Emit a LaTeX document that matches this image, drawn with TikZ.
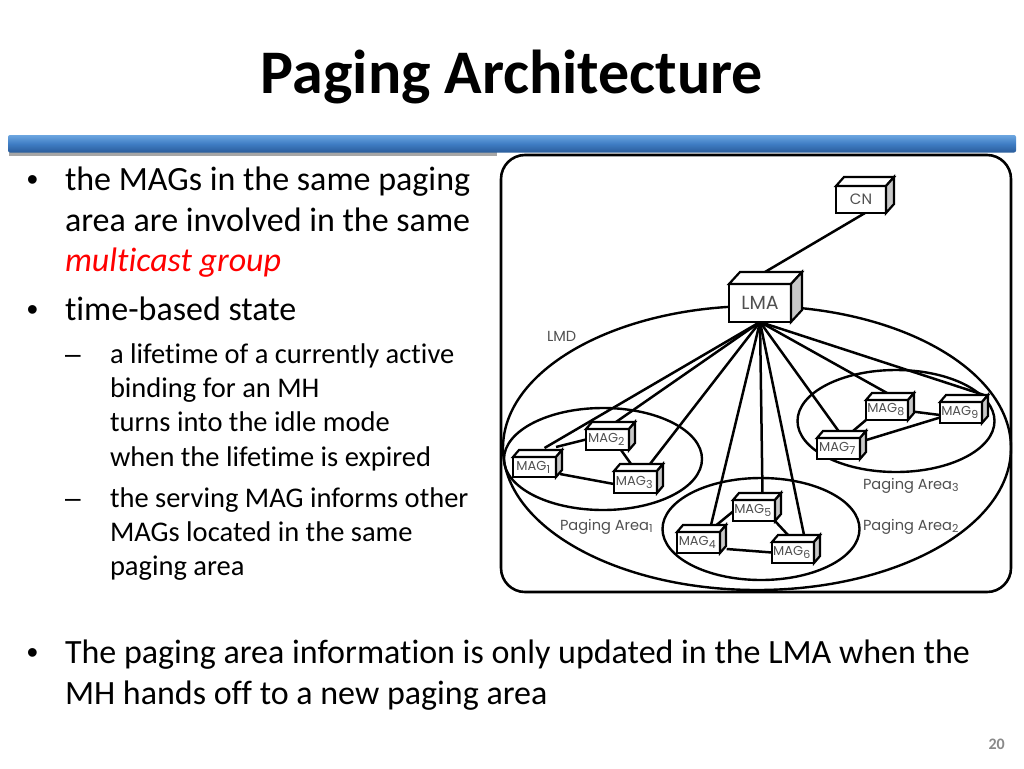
\documentclass[tikz,border=0pt]{standalone}
\usepackage{fontspec}
\setmainfont{Carlito}[Ligatures=NoCommon]
\newfontfamily\diafont{Poppins}
\newfontfamily\markfont{Liberation Sans}
\usetikzlibrary{calc,backgrounds,shapes.geometric}
\definecolor{barTop}{HTML}{6CA6E0}
\definecolor{barMid}{HTML}{3F7DC4}
\definecolor{barBot}{HTML}{2A5C9A}
\definecolor{diaText}{HTML}{505050}
\definecolor{sideFace}{HTML}{C8C8C8}
\definecolor{pageGray}{HTML}{898989}
\tikzset{
  lineText/.style={anchor=base west,inner sep=0pt,outer sep=0pt,text=black,font=\fontsize{34}{38}\selectfont},
  subText/.style={lineText,font=\fontsize{28.5}{32}\selectfont},
  bulletMark/.style={lineText,font=\markfont\fontsize{32}{38}\selectfont},
  dashMark/.style={lineText,font=\markfont\fontsize{28}{32}\selectfont},
  boxFront/.style={draw=black,line width=2.6pt,fill=white,inner sep=0pt,outer sep=0pt,text=diaText,font=\diafont\fontsize{13}{14}\selectfont},
  boxFace/.style={draw=black,line width=2.2pt,line join=miter},
  area/.style={draw=black,line width=2.4pt,ellipse,inner sep=0pt,outer sep=0pt},
  link/.style={draw=black,line width=2.5pt},
  diaLabel/.style={anchor=base west,inner sep=0pt,outer sep=0pt,text=diaText,font=\diafont\fontsize{14.6}{16}\selectfont},
}
\newcommand{\netbox}[8]{%
  \pgfmathsetmacro{\bw}{#4-#2}\pgfmathsetmacro{\bh}{#5-#3}%
  \pgfmathsetmacro{\bcx}{(#4+#2)/2}\pgfmathsetmacro{\bcy}{(#5+#3)/2}%
  \node[boxFront,minimum width=\bw pt,minimum height=\bh pt] (#1) at (\bcx,\bcy) {#8};
  \draw[boxFace,fill=white] (#1.north west) -- ++(#6,#7) -- ++(\bw,0) -- (#1.north east) -- cycle;
  \draw[boxFace,fill=sideFace] (#1.north east) -- ++(#6,#7) -- ++(0,\bh) -- (#1.south east) -- cycle;
}
\newcommand{\mg}[1]{\hspace*{-2.5pt}MAG\raisebox{-3pt}{\fontsize{11}{11}\selectfont #1}}
\begin{document}
\begin{tikzpicture}[x=1pt,y=-1pt]
\useasboundingbox (0,0) rectangle (1024,768);
% title
\node[anchor=base,inner sep=0pt,text=black,font=\bfseries\fontsize{62}{64}\selectfont] (title) at (512,93) {Paging Architecture};
% bar
\fill[black!35] (9,150) rectangle (497,155.5);
\shade[top color=barTop,bottom color=barBot,middle color=barMid,rounded corners=2pt] (8,135) rectangle (1016,152.5);
% bullets
\node[bulletMark] (b1) at (27,190) {•};
\node[lineText] (t1) at (65,190) {the MAGs in the same paging};
\node[lineText] (t2) at (65,231) {area are involved in the same};
\node[lineText,text=red,font=\itshape\fontsize{34}{38}\selectfont] (t3) at (65,271) {multicast group};
\node[bulletMark] (b2) at (27,320) {•};
\node[lineText] (t4) at (65,320) {time-based state};
\node[dashMark] (d1) at (65,363) {–};
\node[subText] (s1) at (110,363) {a lifetime of a currently active};
\node[subText] (s2) at (110,397) {binding for an MH};
\node[subText] (s3) at (110,431) {turns into the idle mode};
\node[subText] (s4) at (110,466) {when the lifetime is expired};
\node[dashMark] (d2) at (65,507) {–};
\node[subText] (s5) at (110,507) {the serving MAG informs other};
\node[subText] (s6) at (110,541) {MAGs located in the same};
\node[subText] (s7) at (110,575) {paging area};
\node[bulletMark] (b3) at (27,663) {•};
\node[lineText] (t5) at (65,663) {The paging area information is only updated in the LMA when the};
\node[lineText] (t6) at (65,704) {MH hands off to a new paging area};
\node[anchor=base east,inner sep=0pt,text=pageGray,font=\bfseries\fontsize{16}{18}\selectfont] (page) at (1005,749) {20};
% boxes
\netbox{cn}{836}{186}{886}{213}{8}{-9}{\fontsize{15}{15}\selectfont CN}
\netbox{lma}{729}{284}{791}{322}{11}{-12}{\fontsize{19}{20}\selectfont LMA}
\netbox{mag1}{513}{457}{556}{477}{6}{-7}{\mg{1}}
\netbox{mag2}{586}{429}{629}{450}{6}{-7}{\mg{2}}
\netbox{mag3}{614}{471}{657}{493}{6}{-7}{\mg{3}}
\netbox{mag4}{677}{532}{720}{553}{6}{-7}{\mg{4}}
\netbox{mag5}{733}{500}{775}{521}{6}{-7}{\mg{5}}
\netbox{mag6}{772}{542}{814}{563}{6}{-7}{\mg{6}}
\netbox{mag7}{817}{438}{860}{459}{6}{-7}{\mg{7}}
\netbox{mag8}{866}{400}{908}{420}{6}{-7}{\mg{8}}
\netbox{mag9}{940}{402}{982}{423}{6}{-7}{\mg{9}}
% labels
\node[diaLabel] (lmdL) at (547,341) {LMD};
\node[diaLabel] (pa1L) at (560,530) {Paging Area\raisebox{-2.5pt}{\fontsize{11}{11}\selectfont 1}};
\node[diaLabel] (pa2L) at (863,530) {Paging Area\raisebox{-2.5pt}{\fontsize{11}{11}\selectfont 2}};
\node[diaLabel] (pa3L) at (863,489) {Paging Area\raisebox{-2.5pt}{\fontsize{11}{11}\selectfont 3}};
\begin{scope}[on background layer]
  \fill[white] (0,0) rectangle (1024,768);
  \draw[line width=2.6pt,fill=white,rounded corners=24pt] (501,155) rectangle (1011,592);
  \node[area,minimum width=508pt,minimum height=284pt] (lmd) at (757,448) {};
  \node[area,minimum width=198pt,minimum height=102pt] (pa1) at (603,459) {};
  \node[area,minimum width=197pt,minimum height=102pt] (pa2) at (761,529) {};
  \node[area,minimum width=197pt,minimum height=102pt] (pa3) at (896,421) {};
  \draw[link] ($(cn.south)+(4,0)$) -- ($(lma.north)+(5,-12)$);
  \draw[link] (lma.south) -- ($(mag1.north)+(10,-9)$);
  \draw[link] (lma.south) -- ($(mag2.north)+(8.5,-7)$);
  \draw[link] (lma.south) -- ($(mag3.north)+(14.5,-7)$);
  \draw[link] (lma.south) -- ($(mag4.north)+(12.5,-7)$);
  \draw[link] (lma.south) -- ($(mag5.north)+(8.5,-7)$);
  \draw[link] (lma.south) -- ($(mag6.north)+(11,-7)$);
  \draw[link] (lma.south) -- ($(mag7.north)+(0,-7)$);
  \draw[link] (lma.south) -- ($(mag8.north)+(0,-7)$);
  \draw[link] (lma.south) -- ($(mag9.north)+(23,-7)$);
  \draw[link] ($(mag1.north east)+(0,-10)$) -- (mag2.west);
  \draw[link] ($(mag1.east)+(4,7)$) -- ($(mag3.west)+(0,2)$);
  \draw[link] ($(mag2.south)+(13.5,0)$) -- ($(mag3.north)+(-4.5,-7)$);
  \draw[link] ($(mag4.north)+(18,-7)$) -- ($(mag5.west)+(0,1)$);
  \draw[link] ($(mag4.east)+(6.7,6.5)$) -- (mag6.west);
  \draw[link] (mag5.south east) -- ($(mag6.north)+(-5,-7)$);
  \draw[link] ($(mag7.north)+(14.5,-7)$) -- (mag8.south west);
  \draw[link] ($(mag7.east)+(4.7,-8)$) -- ($(mag9.west)+(0,5)$);
  \draw[link] ($(mag8.east)+(6,1.7)$) -- ($(mag9.west)+(0,2.5)$);
\end{scope}
\end{tikzpicture}
\end{document}
